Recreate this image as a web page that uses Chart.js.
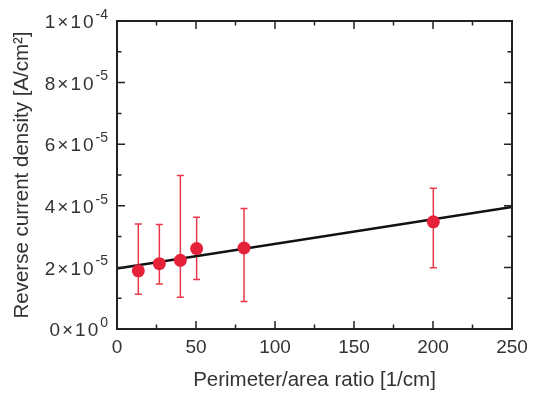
<!DOCTYPE html>
<html>
<head>
<meta charset="utf-8">
<script src="https://cdn.jsdelivr.net/npm/chart.js@4"></script>
<style>
  html, body { margin: 0; padding: 0; background: #fff; }
  #wrap { width: 542px; height: 396px; }
</style>
</head>
<body>
<div id="wrap"><canvas id="chart"></canvas></div>
<script>
// measured values (x in 1/cm, y in A/cm^2)
const perimeterRatio = [13.5, 26.8, 40.1, 50.4, 80.4, 200.2];
const currentDensity = [18.9e-6, 21.2e-6, 22.3e-6, 26.1e-6, 26.3e-6, 34.8e-6];
const errHigh = [34.1e-6, 33.9e-6, 49.8e-6, 36.3e-6, 39.1e-6, 45.7e-6];
const errLow = [11.3e-6, 14.6e-6, 10.3e-6, 16.1e-6, 8.9e-6, 19.9e-6];

const fitX = [0, 250];
const fitY = [19.6e-6, 39.6e-6];

const xMajorTicks = [0, 50, 100, 150, 200, 250];
const xMinorTicks = [25, 75, 125, 175, 225];
const yMajorTicks = [0, 2e-5, 4e-5, 6e-5, 8e-5, 1e-4];
const yMinorTicks = [1e-5, 3e-5, 5e-5, 7e-5, 9e-5];
const yTickMantissa = ['0', '2', '4', '6', '8', '1'];
const yTickExponent = ['0', '-5', '-5', '-5', '-5', '-4'];

const FONT = '"Liberation Sans", Arial, Helvetica, sans-serif';
const TEXT = '#333';
const RED = '#e6223a';

const errorBars = {
    id: 'errorBars',
    beforeDatasetsDraw(chart) {
        const { ctx, scales: { x, y } } = chart;
        ctx.save();
        ctx.strokeStyle = '#e8384c';
        ctx.lineWidth = 1.5;
        perimeterRatio.forEach((v, i) => {
            const px = x.getPixelForValue(v);
            const top = y.getPixelForValue(errHigh[i]);
            const bot = y.getPixelForValue(errLow[i]);
            ctx.beginPath();
            ctx.moveTo(px, top); ctx.lineTo(px, bot);
            ctx.moveTo(px - 3.5, top); ctx.lineTo(px + 3.5, top);
            ctx.moveTo(px - 3.5, bot); ctx.lineTo(px + 3.5, bot);
            ctx.stroke();
        });
        ctx.restore();
    }
};

const frame = {
    id: 'frame',
    afterDatasetsDraw(chart) {
        const { ctx, chartArea: a, scales: { x, y } } = chart;
        ctx.save();
        ctx.strokeStyle = '#222';
        ctx.lineWidth = 2;
        ctx.strokeRect(a.left, a.top, a.right - a.left, a.bottom - a.top);
        ctx.lineWidth = 1.5;
        ctx.beginPath();
        const xt = (vals, len) => vals.forEach(v => {
            const px = x.getPixelForValue(v);
            ctx.moveTo(px, a.bottom); ctx.lineTo(px, a.bottom - len);
            ctx.moveTo(px, a.top); ctx.lineTo(px, a.top + len);
        });
        const yt = (vals, len) => vals.forEach(v => {
            const py = y.getPixelForValue(v);
            ctx.moveTo(a.left, py); ctx.lineTo(a.left + len, py);
            ctx.moveTo(a.right, py); ctx.lineTo(a.right - len, py);
        });
        xt(xMajorTicks, 8); xt(xMinorTicks, 4.5);
        yt(yMajorTicks, 8); yt(yMinorTicks, 4.5);
        ctx.stroke();

        // y tick labels with superscript exponents
        ctx.fillStyle = TEXT;
        ctx.textAlign = 'right';
        ctx.textBaseline = 'middle';
        const right = 108;
        yMajorTicks.forEach((v, i) => {
            const py = y.getPixelForValue(v);
            ctx.letterSpacing = '0px';
            ctx.font = '14px ' + FONT;
            const ew = ctx.measureText(yTickExponent[i]).width;
            ctx.fillText(yTickExponent[i], right, py - 6);
            ctx.font = '19px ' + FONT;
            ctx.letterSpacing = '2px';
            ctx.fillText(yTickMantissa[i] + '\u00d710', right - ew, py + 2);
        });
        ctx.restore();
    }
};

new Chart(document.getElementById('chart'), {
    type: 'scatter',
    data: {
        datasets: [
            {
                label: 'measured',
                data: perimeterRatio.map((v, i) => ({ x: v, y: currentDensity[i] })),
                backgroundColor: RED,
                borderWidth: 0,
                pointRadius: 6.5
            },
            {
                label: 'fit',
                data: fitX.map((v, i) => ({ x: v, y: fitY[i] })),
                showLine: true,
                borderColor: '#111',
                borderWidth: 2.5,
                pointRadius: 0
            }
        ]
    },
    options: {
        responsive: true,
        maintainAspectRatio: false,
        animation: false,
        layout: { padding: { left: 0, right: 30, top: 21, bottom: 0 } },
        plugins: { legend: { display: false }, tooltip: { enabled: false } },
        scales: {
            x: {
                type: 'linear', min: 0, max: 250,
                afterFit: s => { s.height = 67; },
                afterBuildTicks: s => { s.ticks = xMajorTicks.map(v => ({ value: v })); },
                grid: { display: false, drawTicks: false },
                border: { display: false },
                ticks: { color: TEXT, font: { family: FONT, size: 19 }, padding: 7, maxRotation: 0 },
                title: {
                    display: true, text: 'Perimeter/area ratio [1/cm]', color: TEXT,
                    font: { family: FONT, size: 20.5 }, padding: { top: 0, bottom: 3 }
                }
            },
            y: {
                type: 'linear', min: 0, max: 1e-4,
                afterFit: s => { s.width = 117; },
                grid: { display: false, drawTicks: false },
                border: { display: false },
                ticks: { display: false },
                title: {
                    display: true, text: 'Reverse current density [A/cm\u00b2]', color: TEXT,
                    font: { family: FONT, size: 20.5 }, padding: { top: 10, bottom: 0 }
                }
            }
        }
    },
    plugins: [errorBars, frame]
});
</script>
</body>
</html>
